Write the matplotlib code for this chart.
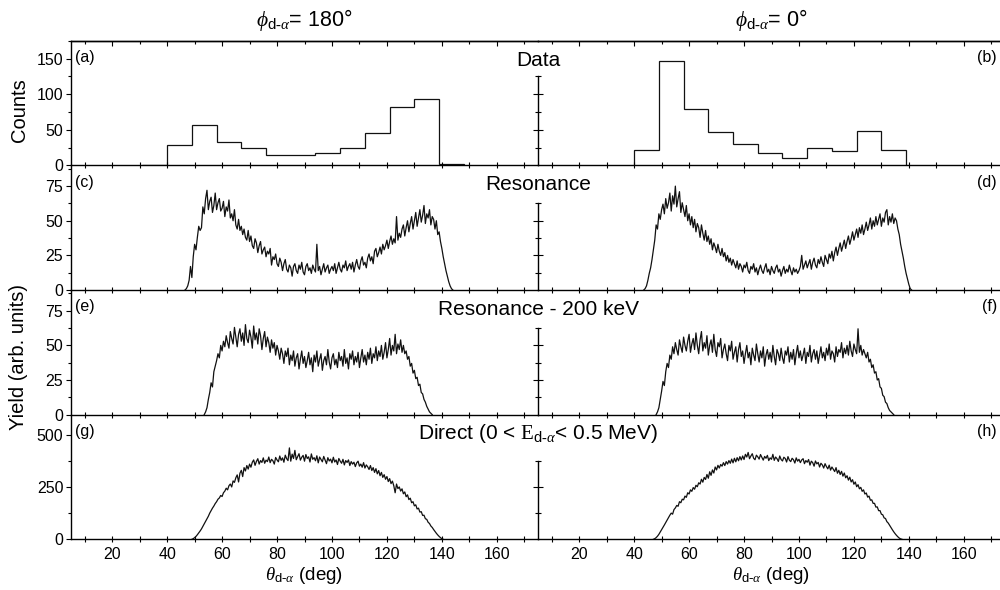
import numpy as np
import matplotlib
matplotlib.use('Agg')
import matplotlib.pyplot as plt
from matplotlib.ticker import MultipleLocator, FixedLocator

plt.rcParams['font.family'] = ['Liberation Sans', 'DejaVu Sans']
plt.rcParams['mathtext.fontset'] = 'custom'
plt.rcParams['mathtext.rm'] = 'Liberation Serif'
plt.rcParams['mathtext.it'] = 'Liberation Serif:italic'
plt.rcParams['mathtext.sf'] = 'Liberation Sans'

# ---- data: measured counts (9 deg bins) ----
edges_a = [31, 40, 49, 58, 67, 76, 85, 94, 103, 112, 121, 130, 139, 148]
counts_a = [1, 29, 57, 33, 25, 15, 15, 18, 25, 45, 82, 93, 2]
edges_b = [40, 49, 58, 67, 76, 85, 94, 103, 112, 121, 130, 139]
counts_b = [22, 147, 79, 47, 30, 18, 10, 25, 20, 48, 21]

# ---- simulated yields, 0.5 deg steps from the given first angle ----
step = 0.5
start_c = 46.5
yield_c = [0, 1, 3, 7, 17, 9, 24, 33, 29, 38, 46, 43, 45, 60, 55, 66, 72, 58, 64, 67,
           56, 61, 70, 58, 63, 66, 57, 59, 64, 53, 60, 57, 65, 52, 55, 50, 58, 47, 44, 51,
           43, 46, 40, 44, 38, 36, 43, 35, 39, 32, 30, 37, 34, 27, 32, 35, 26, 29, 31, 24,
           28, 26, 30, 18, 24, 22, 26, 19, 17, 23, 20, 14, 19, 22, 15, 13, 18, 16, 10, 17,
           19, 14, 12, 18, 15, 20, 13, 11, 17, 19, 14, 16, 12, 18, 15, 13, 33, 14, 17, 11,
           15, 19, 13, 16, 18, 12, 15, 17, 14, 19, 12, 16, 20, 15, 13, 18, 16, 21, 14, 17,
           19, 15, 20, 13, 18, 22, 17, 15, 21, 24, 18, 20, 16, 23, 26, 21, 24, 19, 28, 30,
           24, 27, 31, 26, 33, 29, 32, 36, 30, 35, 39, 33, 37, 34, 53, 36, 41, 38, 44, 47,
           39, 45, 50, 42, 48, 53, 44, 50, 56, 46, 52, 58, 49, 54, 61, 48, 55, 52, 58, 47,
           53, 51, 44, 50, 40, 42, 35, 30, 24, 19, 14, 10, 6, 3, 1, 0]

start_d = 43.5
yield_d = [0, 1, 3, 7, 12, 16, 22, 29, 36, 47, 44, 55, 51, 58, 62, 55, 66, 59, 63, 70,
           57, 68, 62, 75, 60, 66, 71, 56, 63, 58, 53, 61, 50, 55, 47, 53, 45, 51, 42, 48,
           45, 38, 47, 41, 36, 43, 35, 39, 33, 37, 29, 34, 31, 27, 33, 28, 25, 30, 24, 27,
           21, 25, 20, 23, 18, 22, 19, 16, 21, 15, 19, 17, 13, 18, 16, 20, 14, 12, 17, 15,
           19, 13, 16, 11, 15, 18, 14, 12, 16, 19, 13, 15, 11, 17, 14, 12, 16, 18, 13, 15,
           10, 14, 17, 12, 15, 13, 18, 14, 11, 16, 13, 15, 12, 14, 17, 25, 15, 18, 21, 16,
           19, 22, 15, 20, 23, 18, 16, 22, 19, 24, 20, 17, 25, 22, 19, 26, 23, 28, 21, 27,
           31, 25, 30, 34, 28, 32, 36, 30, 35, 39, 33, 37, 42, 36, 40, 44, 38, 45, 41, 47,
           40, 44, 49, 43, 47, 52, 44, 50, 46, 53, 47, 51, 55, 46, 52, 49, 56, 58, 47, 53,
           49, 55, 48, 52, 50, 44, 40, 33, 28, 23, 17, 12, 8, 4, 1, 0]

start_e = 53.5
yield_e = [0, 2, 5, 11, 16, 23, 20, 31, 35, 39, 44, 41, 50, 46, 53, 49, 57, 52, 48, 60,
           55, 51, 63, 56, 49, 58, 62, 53, 59, 50, 65, 55, 52, 61, 56, 48, 64, 54, 59, 51,
           62, 57, 47, 55, 60, 49, 56, 52, 45, 54, 48, 52, 43, 50, 46, 40, 48, 44, 37, 46,
           42, 48, 36, 43, 39, 46, 35, 41, 44, 33, 40, 46, 37, 42, 34, 39, 45, 36, 41, 31,
           43, 38, 46, 35, 40, 44, 32, 39, 42, 36, 47, 38, 33, 41, 44, 36, 40, 34, 45, 39,
           42, 35, 47, 37, 41, 33, 44, 40, 46, 36, 42, 38, 45, 34, 41, 47, 38, 43, 36, 45,
           40, 48, 37, 44, 41, 49, 39, 46, 42, 50, 40, 45, 52, 41, 47, 55, 43, 50, 46, 58,
           44, 51, 47, 54, 45, 50, 44, 46, 40, 42, 35, 37, 30, 32, 26, 27, 21, 22, 16, 15,
           11, 9, 6, 4, 2, 1, 0]

start_f = 48.0
yield_f = [0, 2, 5, 11, 17, 24, 21, 31, 37, 34, 43, 40, 49, 44, 52, 47, 43, 54, 49, 45,
           56, 50, 46, 53, 58, 45, 51, 55, 47, 59, 50, 44, 54, 60, 46, 52, 48, 57, 43, 50,
           54, 45, 58, 47, 42, 52, 49, 55, 41, 47, 51, 44, 39, 50, 46, 53, 40, 45, 49, 38,
           47, 52, 42, 46, 37, 44, 50, 41, 45, 36, 48, 43, 39, 51, 44, 38, 46, 41, 49, 35,
           43, 47, 40, 45, 38, 50, 42, 36, 47, 44, 39, 48, 41, 37, 46, 43, 49, 38, 45, 40,
           47, 36, 44, 50, 41, 46, 39, 43, 48, 37, 45, 42, 50, 38, 44, 47, 40, 46, 37, 43,
           49, 41, 45, 39, 48, 43, 51, 40, 46, 44, 38, 49, 42, 47, 45, 52, 41, 48, 44, 50,
           43, 53, 46, 42, 51, 47, 44, 62, 45, 50, 43, 47, 44, 41, 45, 38, 40, 34, 36, 30,
           31, 25, 26, 20, 19, 14, 13, 9, 8, 5, 3, 2, 1, 0]

start_g = 49.0
yield_g = [0, 3, 8, 14, 22, 31, 40, 50, 62, 73, 86, 98, 111, 126, 138, 150, 160, 172, 181, 193,
           199, 211, 206, 224, 232, 246, 238, 258, 266, 252, 281, 274, 296, 310, 276, 318, 332, 302, 345, 329,
           355, 338, 362, 347, 371, 382, 356, 375, 388, 362, 379, 370, 392, 366, 381, 374, 396, 369, 385, 378,
           362, 394, 382, 373, 401, 380, 392, 371, 405, 388, 379, 440, 376, 410, 389, 428, 383, 398, 412, 381,
           395, 404, 376, 408, 389, 397, 372, 411, 385, 393, 378, 402, 368, 396, 385, 373, 399, 381, 364, 393,
           377, 386, 368, 395, 372, 382, 360, 389, 376, 366, 385, 358, 379, 370, 382, 355, 374, 362, 371, 350,
           368, 376, 352, 362, 347, 369, 343, 358, 349, 336, 355, 331, 345, 322, 340, 315, 331, 306, 322, 298,
           311, 289, 302, 278, 292, 268, 280, 258, 224, 266, 244, 252, 232, 243, 219, 228, 205, 214, 191, 198,
           176, 181, 161, 166, 146, 150, 131, 133, 115, 116, 99, 96, 82, 76, 64, 57, 47, 38, 29, 21,
           14, 8, 3, 0]

start_h = 47.0
yield_h = [0, 3, 8, 15, 24, 35, 46, 57, 69, 81, 93, 104, 116, 126, 121, 143, 151, 163, 159, 181,
           176, 193, 190, 208, 202, 224, 218, 238, 231, 249, 241, 260, 253, 272, 266, 289, 275, 298, 288, 312,
           294, 325, 308, 334, 319, 348, 334, 356, 343, 360, 352, 369, 355, 374, 362, 379, 366, 386, 368, 390,
           373, 393, 378, 398, 382, 401, 384, 409, 396, 418, 388, 401, 412, 390, 383, 405, 397, 386, 408, 394,
           381, 399, 390, 404, 379, 392, 385, 409, 380, 396, 388, 375, 401, 384, 377, 395, 389, 372, 398, 381,
           374, 390, 383, 367, 392, 376, 385, 369, 382, 388, 364, 379, 371, 384, 357, 376, 369, 352, 377, 363,
           370, 348, 366, 358, 343, 364, 350, 339, 357, 333, 348, 337, 326, 345, 318, 332, 312, 327, 304, 319,
           296, 306, 285, 299, 276, 287, 265, 276, 253, 263, 243, 250, 231, 238, 218, 223, 203, 208, 188, 190,
           173, 173, 155, 156, 138, 138, 121, 118, 103, 100, 85, 78, 67, 56, 46, 36, 27, 19, 12, 6,
           2, 0]

panel_tags = ['(a)', '(b)', '(c)', '(d)', '(e)', '(f)', '(g)', '(h)']
row_titles = ['Data', 'Resonance', 'Resonance - 200 keV',
              r'Direct (0 < $\mathrm{E}_{\mathsf{d}\text{-}\alpha}$< 0.5 MeV)']
col_titles = [r'$\phi_{\mathsf{d}\text{-}\alpha}$= 180°', r'$\phi_{\mathsf{d}\text{-}\alpha}$= 0°']
xlabel = r'$\theta_{\mathsf{d}\text{-}\alpha}$ (deg)'

# y ranges / ticks per row: (ymax, major, minor, height of middle axis line)
row_y = [(175, 50, 25, 125), (90, 25, 12.5, 62.5), (90, 25, 12.5, 62.5), (600, 250, 125, 375)]


def curve(start, vals):
	x = start + step * np.arange(len(vals))
	return x, np.array(vals, dtype=float)


def style(ax, row, right_col):
	ymax, major, minor, bound = row_y[row]
	ax.set_xlim(5, 175)
	ax.set_ylim(0, ymax)
	ax.set_facecolor('none')
	ax.spines['right'].set_visible(False)
	ax.spines['top'].set_visible(row == 0)
	for s in ax.spines.values():
		s.set_linewidth(1.0)
	ax.xaxis.set_major_locator(MultipleLocator(20))
	ax.xaxis.set_minor_locator(MultipleLocator(10))
	ax.tick_params(axis='x', which='both', direction='inout', top=False,
	               labelbottom=(row == 3), labelsize=11.5, pad=3, width=0.8)
	ax.tick_params(axis='x', which='major', length=5)
	ax.tick_params(axis='x', which='minor', length=4)
	if row == 0:
		# top axis with inward ticks only
		sec = ax.secondary_xaxis('top')
		sec.xaxis.set_major_locator(MultipleLocator(20))
		sec.xaxis.set_minor_locator(MultipleLocator(10))
		sec.tick_params(which='both', direction='in', labeltop=False, width=0.8)
		sec.tick_params(which='major', length=3.5)
		sec.tick_params(which='minor', length=2.5)
		sec.spines['top'].set_linewidth(1.0)
	if right_col:
		ax.spines['left'].set_bounds(0, bound)
		majors = list(np.arange(major, bound + 0.01, major))
		minors = [v for v in np.arange(minor, bound + 0.01, minor) if v not in majors]
		ax.yaxis.set_major_locator(FixedLocator(majors))
		ax.yaxis.set_minor_locator(FixedLocator(minors))
		ax.tick_params(axis='y', which='both', direction='inout', labelleft=False, width=0.8)
		ax.tick_params(axis='y', which='major', length=7)
		ax.tick_params(axis='y', which='minor', length=4.5)
	else:
		ax.yaxis.set_major_locator(MultipleLocator(major))
		ax.yaxis.set_minor_locator(MultipleLocator(minor))
		ax.tick_params(axis='y', which='both', direction='out', labelsize=11.5, pad=2, width=0.8)
		ax.tick_params(axis='y', which='major', length=3.5)
		ax.tick_params(axis='y', which='minor', length=2.5)


fig = plt.figure(figsize=(10, 5.9), dpi=100)

left, mid, width = 0.071, 0.538, 0.467
bottom = 1 - 539.3 / 590
row_h = (539.3 - 40.7) / 4 / 590

curves = [None, (curve(start_c, yield_c), curve(start_d, yield_d)),
          (curve(start_e, yield_e), curve(start_f, yield_f)),
          (curve(start_g, yield_g), curve(start_h, yield_h))]

for row in range(4):
	y0 = bottom + (3 - row) * row_h
	axL = fig.add_axes([left, y0, width, row_h])
	axR = fig.add_axes([mid, y0, width, row_h])
	style(axL, row, False)
	style(axR, row, True)
	if row == 0:
		axL.stairs(counts_a, edges_a, color='#111111', lw=0.9)
		axR.stairs(counts_b, edges_b, color='#111111', lw=0.9)
	else:
		(xl, yl), (xr, yr) = curves[row]
		axL.plot(xl, yl, color='#111111', lw=0.9)
		axR.plot(xr, yr, color='#111111', lw=0.9)
	axL.text(0.008, 0.865, panel_tags[2 * row], transform=axL.transAxes,
	         fontsize=11.5, ha='left', va='center')
	axR.text(0.983, 0.865, panel_tags[2 * row + 1], transform=axR.transAxes,
	         fontsize=11.5, ha='right', va='center')
	fig.text(mid, y0 + 0.845 * row_h, row_titles[row], fontsize=15,
	         ha='center', va='center')
	if row == 3:
		axL.set_xlabel(xlabel, fontsize=13.5, labelpad=2)
		axR.set_xlabel(xlabel, fontsize=13.5, labelpad=2)

fig.text(left + width / 2, 1 - 20 / 590, col_titles[0], fontsize=15.5, ha='center', va='center')
fig.text(mid + width / 2, 1 - 20 / 590, col_titles[1], fontsize=15.5, ha='center', va='center')
fig.text(0.019, 1 - 110 / 590, 'Counts', fontsize=14.5, rotation=90, ha='center', va='center')
fig.text(0.019, 1 - 357 / 590, 'Yield (arb. units)', fontsize=14.5, rotation=90,
         ha='center', va='center')

fig.savefig('out.png', dpi=100)
